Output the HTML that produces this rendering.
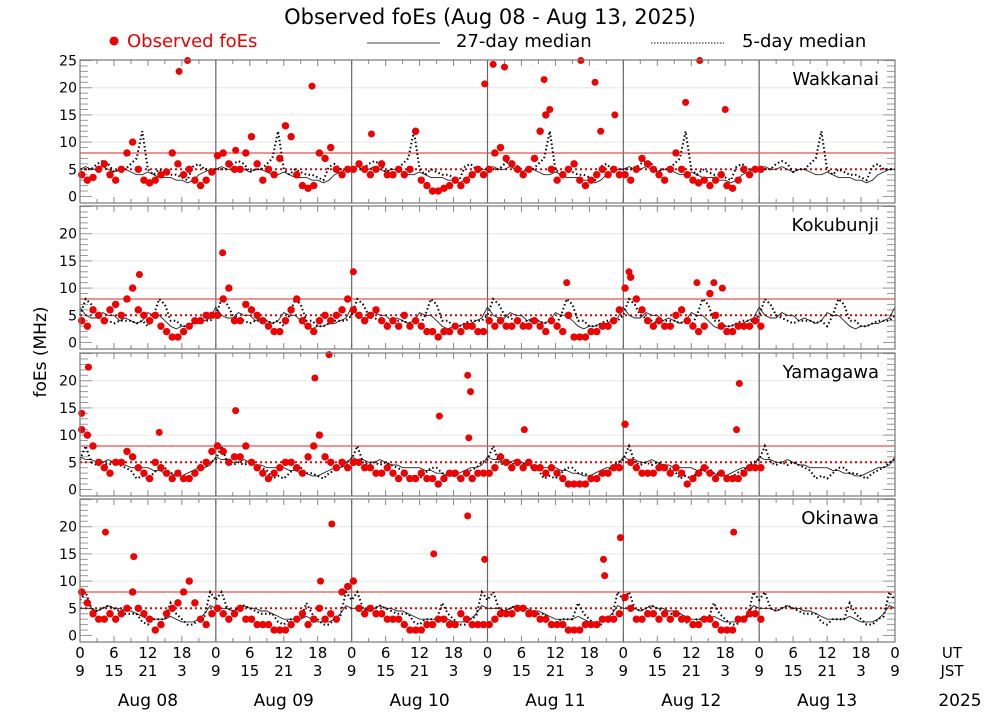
<!DOCTYPE html>
<html><head><meta charset="utf-8"><style>
body{margin:0;background:#fff;width:1000px;height:714px;overflow:hidden}
svg{font-family:"DejaVu Sans","Liberation Sans",sans-serif}
</style></head><body>
<svg id="chart" width="1000" height="714" xmlns="http://www.w3.org/2000/svg"></svg>
<script>
// ---- data ----
const stations = ["Wakkanai","Kokubunji","Yamagawa","Okinawa"];
const dayLabels = ["Aug 08","Aug 09","Aug 10","Aug 11","Aug 12","Aug 13"];
const yTicks = [0,5,10,15,20,25];
const utTicks = ["0","6","12","18"];
const jstTicks = ["9","15","21","3"];
const med27Wakkanai = [5,5.5,5,5,5.5,5,4.5,5,5,4.5,4,4,4.5,4,3.5,3.5,3.5,3,3,2.5,3,4,4.5,5];
const med5Wakkanai = [5,5,5,6,6.5,6,4.5,5,5,6,7,12,5,4,5,4.5,4,4,3.5,3,5.5,6,5,5];
const med27Kokubunji = [6.5,5,4.5,4.5,5.5,5,5,4,4.5,4,3.5,4,5.5,5,5,4,3,2.5,3,3,3.5,3.5,4,4.5];
const med5Kokubunji = [5,8,7,5,4.5,4,3.5,4,4,4,3.5,4,3,5,8,7,4,4,3,3,3.5,4,4,4];
const med27Yamagawa = [6,5.5,5.5,5,5,5.5,5,4.5,4.5,4,4,4,4,3.5,3.5,3,3,2.5,2.5,3,3.5,4,4,4.5];
const med5Yamagawa = [5.5,8,5,4.5,5,4.5,5,4.5,4,3.5,2,2.5,2,3,4,4,3,3,2.5,2,3,3.5,4,5];
const med27Okinawa = [5,5,5,4.5,5,5.5,5,5,4.5,4.5,4,3.5,3,3,3,3,3.5,3,2.5,2.5,2.5,3,4,5.5];
const med5Okinawa = [6.5,8,5,4.5,5,5.5,5,4.5,4,4,4,2.5,2,3,3,3,6,4,3,2,2,3,3.5,8];
const obsWakkanai = [4,3,3.5,5,6,4,3,5,8,10,5,3,2.5,3,4,4.5,8,6,4,5,3,2,3,4.5,
 7.5,8,6,5,5,8,11,6,3,5,4,7,13,11,4,2,1.5,2,8,7,9,5,4,5,
 5,6,5,4,5,6,4,4,5,4,5,12,3,2,1,1,1.5,2,3,2,3,4,5,4,
 5,8,9,7,6,5,4,5,7,12,15,5,3,4,5,6,3,2,3,4,5,4,5,4,
 4,3,5,7,6,5,4,3,5,8,5,4,3,2.5,3,2,3,4,2,1.5,3,5,4,5,5];
const obsKokubunji = [4,3,6,5,4,6,7,5,8,10,6,5,4,5,3,2,1,1,2,3,4,4,5,5,
 5,8,10,4,4,7,6,5,4,3,2,2,4,6,8,4,3,2,4,5,4,5,6,8,
 6,5,4,5,6,4,3,4,3,5,3,4,3,2,2,1,2,2,3,2,3,3,2,2,
 4,3,4,3,3,4,3,3,4,3,2,4,3,2,5,1,1,1,2,2,3,3,4,6,
 10,12,8,6,4,3,4,3,3,5,6,4,3,2,3,9,5,3,2,2,3,3,3,4,3];
const obsYamagawa = [11,10,8,5,4,3,5,5,7,6,4,3,2,5,4,3,2,3,2,2,3,4,5,7,
 8,7,5,6,6,8,5,4,3,2,3,4,5,5,4,3,6,8,10,6,5,4,5,4,
 5,5,4,4,3,3,4,3,2,3,2,2,3,2,2,1,2,3,3,2,3,2,3,3,
 3,4,6,5,4,5,4,5,4,4,3,4,3,2,1,1,1,1,2,2,3,3,4,4,
 12,5,4,3,3,3,4,4,3,4,3,1,2,3,4,3,2,3,2,2,2,3,4,4,4];
const obsOkinawa = [8,6,4,3,3,4,3,4,5,8,5,4,3,1,2,4,5,6,8,10,6,3,2,4,
 5,4,3,4,5,3,3,2,2,2,1,1,1,2,3,4,2,3,5,3,4,3,8,9,
 10,5,4,5,4,4,3,3,3,2,1,1,1,2,2,3,3,2,2,4,3,2,2,2,
 2,3,4,4,4,5,5,4,4,3,3,2,2,2,1,1,1,2,2,2,3,3,3,4,
 7,5,3,3,4,4,3,4,3,4,3,3,2,2,3,3,2,1,1,1,3,3,4,4,3];
const outHoursWakkanai = [17.5,19,41,27.5,51.5,71.5,73,75,82,83,88.5,91,92,94.5,107,109.5,114];
const outValsWakkanai = [23,25,20.3,8.5,11.5,20.7,24.3,23.8,21.5,16,25,21,12,15,17.3,25,16];
const outHoursKokubunji = [25.2,10.5,48.3,86,97,109,112,113.5];
const outValsKokubunji = [16.5,12.5,13,11,13,11,11,10];
const outHoursYamagawa = [0.3,1.5,27.5,41.5,44,63.5,68.5,69,68.7,78.5,14,116.5,116];
const outValsYamagawa = [14,22.5,14.5,20.5,24.8,13.5,21,18,9.5,11,10.5,19.5,11];
const outHoursOkinawa = [4.5,9.5,42.5,44.5,62.5,68.5,71.5,92.5,92.7,95.5,115.5];
const outValsOkinawa = [19,14.5,10,20.5,15,22,14,14,11,18,19];

const S = {
 Wakkanai:[med27Wakkanai,med5Wakkanai,obsWakkanai,outHoursWakkanai,outValsWakkanai],
 Kokubunji:[med27Kokubunji,med5Kokubunji,obsKokubunji,outHoursKokubunji,outValsKokubunji],
 Yamagawa:[med27Yamagawa,med5Yamagawa,obsYamagawa,outHoursYamagawa,outValsYamagawa],
 Okinawa:[med27Okinawa,med5Okinawa,obsOkinawa,outHoursOkinawa,outValsOkinawa]
};

// ---- layout ----
const svg = document.getElementById('chart');
const NS = "http://www.w3.org/2000/svg";
const X0=80, X1=895, HOURS=144;
const tops=[60,206,353,499], PH=143, YMIN=-1.2, YMAX=25.1;
const xs = h => X0 + (X1-X0)*h/HOURS;
const ysFor = top => v => top + PH - (v-YMIN)/(YMAX-YMIN)*PH;
function el(tag, attrs, parent){const e=document.createElementNS(NS,tag);for(const k in attrs)e.setAttribute(k,attrs[k]);(parent||svg).appendChild(e);return e;}
function txt(s, attrs, parent){const e=el('text',attrs,parent);e.textContent=s;return e;}

let t=txt("Observed foEs (Aug 08 - Aug 13, 2025)",{x:490,y:24,'font-size':21,'text-anchor':'middle',fill:'#000'});


const lg = el('g',{});


el('circle',{cx:114,cy:41,r:4.5,fill:'#e00'},lg);
txt("Observed foEs",{x:127,y:47,'font-size':18,fill:'#e00'},lg);
el('line',{x1:367,y1:43,x2:440,y2:43,stroke:'#444','stroke-width':1},lg);
txt("27-day median",{x:456,y:47,'font-size':18,fill:'#000'},lg);
el('line',{x1:651,y1:43,x2:724,y2:43,stroke:'#444','stroke-width':1.2,'stroke-dasharray':'1.5,1.5'},lg);
txt("5-day median",{x:742,y:47,'font-size':18,fill:'#000'},lg);

t=txt("foEs (MHz)",{x:0,y:0,'font-size':17,'text-anchor':'middle',transform:'translate(46,352) rotate(-90)'});



stations.forEach((name,i)=>{
 const top=tops[i], ys=ysFor(top);
 const [m27,m5,obs,oh,ov]=S[name];
 const g=el('g',{});
 
 
 [10,15,20].forEach(v=>el('line',{x1:X0,x2:X1,y1:ys(v),y2:ys(v),stroke:'#e6e6e6','stroke-width':1},g));
 for(let v=0;v<=25;v++){
   const w=(v%5==0)?12:8;
   el('line',{x1:X0,x2:X0+w,y1:ys(v),y2:ys(v),stroke:'#999','stroke-width':1},g);
   el('line',{x1:X1-w,x2:X1,y1:ys(v),y2:ys(v),stroke:'#999','stroke-width':1},g);
 }
 for(let h=0;h<=HOURS;h+=3){const L=(h%6==0)?6:4;
   el('line',{x1:xs(h),x2:xs(h),y1:top,y2:top+L,stroke:'#888'},g);
   el('line',{x1:xs(h),x2:xs(h),y1:top+PH,y2:top+PH-L,stroke:'#888'},g);}
 for(let d=1;d<6;d++) el('line',{x1:xs(d*24),x2:xs(d*24),y1:top,y2:top+PH,stroke:'#666','stroke-width':1.2},g);
 el('line',{x1:X0,x2:X1,y1:ys(8),y2:ys(8),stroke:'#d55','stroke-width':1.2},g);
 el('line',{x1:X0,x2:X1,y1:ys(5),y2:ys(5),stroke:'#d00','stroke-width':2,'stroke-dasharray':'2,3'},g);
 let p27="",p5="";
 for(let h=0;h<=HOURS;h++){const k=h%24;
   p27+=(h?"L":"M")+xs(h).toFixed(1)+","+ys(m27[k]).toFixed(1);
   p5+=(h?"L":"M")+xs(h).toFixed(1)+","+ys(m5[k]).toFixed(1);}
 const l27=el('path',{d:p27,fill:'none',stroke:'#222','stroke-width':0.9},g);
 
 
 const l5=el('path',{d:p5,fill:'none',stroke:'#000','stroke-width':2,'stroke-dasharray':'1.5,2.5'},g);
 
 
 obs.forEach((v,h)=>{const c=el('circle',{cx:xs(h+0.3),cy:ys(v),r:3.7,fill:'#e00'},g);
   
   });
 oh.forEach((h,j)=>{const c=el('circle',{cx:xs(h),cy:ys(Math.min(ov[j],25)),r:3.5,fill:'#e00'},g);
   
   });
 el('rect',{x:X0,y:top,width:X1-X0,height:PH,fill:'none',stroke:'#777','stroke-width':1.2},g);
 yTicks.forEach(v=>{ if(v==25 && i>0) return;
   txt(String(v),{x:X0-3,y:ys(v)+5,'font-size':14,'text-anchor':'end'},g);});
 const sl=txt(name,{x:X1-16,y:top+25,'font-size':18,'text-anchor':'end'},g);
 
 
});

const xg=el('g',{});


for(let h=0;h<=HOURS;h+=6){const k=(h/6)%4;
 txt(utTicks[k],{x:xs(h),y:658,'font-size':15,'text-anchor':'middle'},xg);
 txt(jstTicks[k],{x:xs(h),y:676,'font-size':15,'text-anchor':'middle'},xg);}
txt("UT",{x:952,y:658,'font-size':15,'text-anchor':'middle'},xg);
txt("JST",{x:952,y:676,'font-size':15,'text-anchor':'middle'},xg);
dayLabels.forEach((d,j)=>txt(d,{x:xs(j*24+12),y:706,'font-size':17,'text-anchor':'middle'},xg));
txt("2025",{x:960,y:706,'font-size':17,'text-anchor':'middle'},xg);
</script>
</body></html>
